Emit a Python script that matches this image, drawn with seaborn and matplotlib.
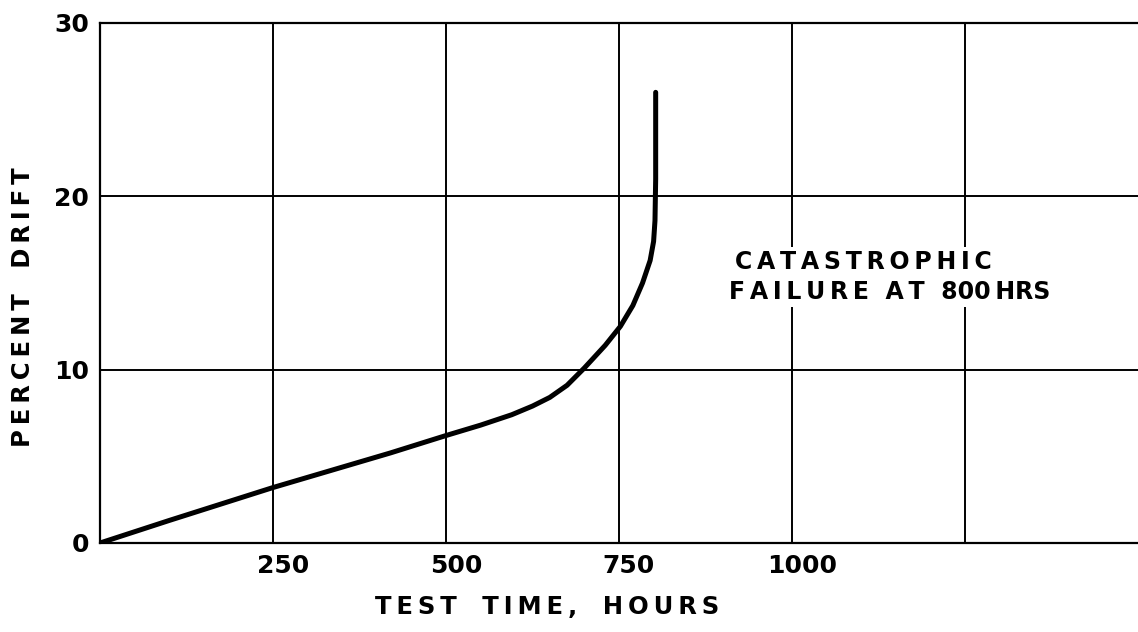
import matplotlib
matplotlib.use("Agg")
import matplotlib.pyplot as plt
import matplotlib.transforms as mtransforms
import seaborn as sns

# curve: percent drift against test time
hours = [0, 100, 250, 420, 500, 550, 595, 625, 650, 675, 700, 730, 752, 770, 784, 795, 800, 802, 803, 803]
drift = [0, 1.3, 3.2, 5.2, 6.2, 6.8, 7.4, 7.9, 8.4, 9.1, 10.1, 11.4, 12.5, 13.7, 15.0, 16.3, 17.4, 18.6, 21.0, 26.0]

x_ticks = [0, 250, 500, 750, 1000, 1250]
x_tick_labels = ["", "250", "500", "750", "1000", ""]
y_ticks = [0, 10, 20, 30]
y_tick_labels = ["0", "10", "20", "30"]

note_first = "CATASTROPHIC"
note_second = ["FAILURE", "AT", "800\u2009HRS"]


def spaced(s):
    # old drafting lettering is widely spaced
    return "\u2009".join(s)


sns.set_style("white")
plt.rcParams["font.family"] = ["DejaVu Sans"]
plt.rcParams["text.color"] = "black"
plt.rcParams["axes.labelcolor"] = "black"
plt.rcParams["xtick.color"] = "black"
plt.rcParams["ytick.color"] = "black"

fig = plt.figure(figsize=(11.38, 6.32), dpi=100)
ax = fig.add_axes([100 / 1138, 1 - 543 / 632, 1038 / 1138, 520 / 632])

sns.lineplot(x=hours, y=drift, ax=ax, color="black", linewidth=3.6,
             sort=False, estimator=None)

ax.set_xlim(0, 1500)
ax.set_ylim(0, 30)
ax.set_xticks(x_ticks)
ax.set_xticklabels(x_tick_labels)
ax.set_yticks(y_ticks)
ax.set_yticklabels(y_tick_labels)
ax.grid(True, color="black", linewidth=1.4)
ax.tick_params(length=0, labelsize=18, pad=8)
for lab in ax.get_xticklabels() + ax.get_yticklabels():
    lab.set_fontweight("bold")
# the printed x numbers sit a bit right of their lines
shift = mtransforms.ScaledTranslation(10 / 100, 0, fig.dpi_scale_trans)
for lab in ax.get_xticklabels():
    lab.set_transform(lab.get_transform() + shift)

for side in ["left", "bottom", "top"]:
    ax.spines[side].set_color("black")
    ax.spines[side].set_linewidth(1.6)
ax.spines["right"].set_visible(False)

ax.set_xlabel(spaced("TEST") + "   " + spaced("TIME,") + "   " + spaced("HOURS"),
              fontsize=17.5, fontweight="bold")
ax.xaxis.set_label_coords((547 - 100) / 1038, (543 - 607) / 520)
ax.xaxis.label.set_va("center")
ax.set_ylabel(spaced("PERCENT") + "   " + spaced("DRIFT"), fontsize=17.5, fontweight="bold")
ax.yaxis.set_label_coords((23 - 100) / 1038, (543 - 307) / 520)
ax.yaxis.label.set_va("center")

box = dict(facecolor="white", edgecolor="none", pad=2)
ax.text(918, 16.2, spaced(note_first), fontsize=17, fontweight="bold",
        ha="left", va="center", bbox=box, zorder=5)
line2 = spaced(note_second[0]) + "  " + spaced(note_second[1]) + "  " + note_second[2]
ax.text(909, 14.5, line2, fontsize=17, fontweight="bold",
        ha="left", va="center", bbox=box, zorder=5)

fig.savefig("out.png", dpi=100, facecolor="white")
